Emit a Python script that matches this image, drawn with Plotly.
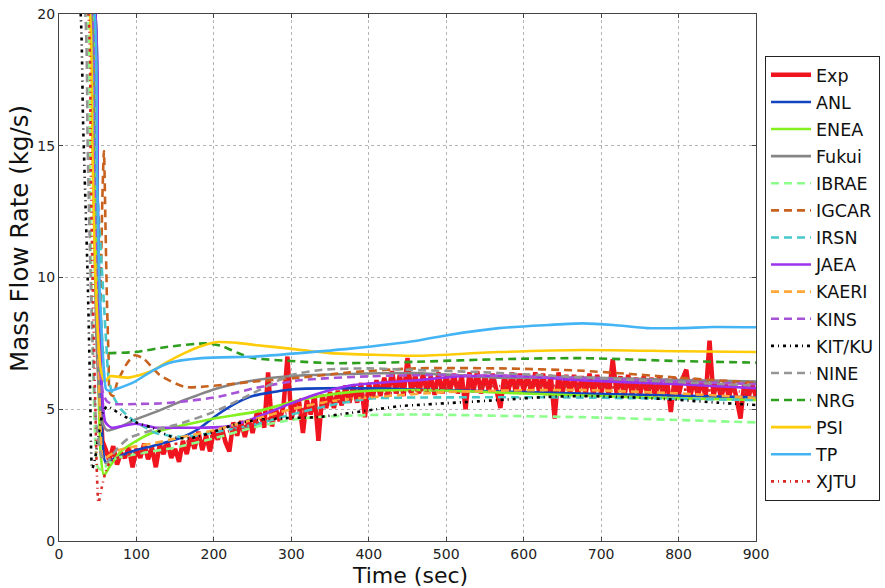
import plotly.graph_objects as go

# ---------------- data ----------------
exp_time = [0, 46, 48, 50, 53, 56] + list(range(60, 905, 5))
exp_flow = [30, 20, 14, 9, 5.5, 3.8,
    # 60-105
    3.5, 3.05, 3.6, 2.9, 3.35, 3.15, 3.55, 2.8, 3.5, 3.15,
    # 110-155
    3.7, 3.1, 3.55, 2.8, 3.65, 3.3, 3.75, 3.15, 3.5, 3.0,
    # 160-205
    3.8, 3.3, 3.95, 3.5, 4.15, 3.45, 4.0, 3.4, 4.2, 3.85,
    # 210-255
    4.3, 3.75, 3.4, 4.5, 4.0, 4.55, 3.95, 4.6, 4.1, 4.8,
    # 260-305
    4.8, 4.3, 6.4, 4.35, 5.0, 4.55, 5.15, 7.0, 4.6, 5.2,
    # 310-355
    5.3, 4.1, 5.35, 4.8, 5.55, 3.8, 5.55, 5.05, 5.65, 5.05,
    # 360-405
    5.7, 5.15, 5.9, 5.25, 5.9, 5.25, 6.0, 4.7, 6.0, 5.45,
    # 410-455
    6.1, 5.5, 6.2, 5.55, 6.45, 5.6, 6.3, 5.5, 6.95, 5.6,
    # 460-505
    6.3, 5.6, 6.35, 5.65, 6.25, 5.55, 6.4, 5.6, 6.3, 5.7,
    # 510-555
    6.35, 5.6, 6.3, 5.0, 6.4, 5.65, 6.45, 5.6, 6.3, 5.7,
    # 560-605
    6.35, 5.6, 5.05, 6.3, 5.65, 6.4, 5.6, 6.35, 5.7, 6.3,
    # 610-655
    5.6, 6.4, 5.65, 6.35, 5.55, 6.3, 4.65, 6.4, 5.6, 6.3,
    # 660-705
    5.6, 6.3, 5.55, 6.25, 5.6, 6.35, 5.55, 6.3, 5.6, 6.2,
    # 710-755
    5.55, 6.9, 5.6, 6.25, 5.5, 6.3, 5.55, 6.2, 5.5, 6.25,
    # 760-805
    5.5, 6.2, 5.45, 6.25, 5.5, 6.15, 4.9, 6.2, 5.5, 6.15,
    # 810-855
    6.5, 5.45, 6.15, 5.5, 6.1, 5.45, 7.6, 5.5, 6.1, 5.4,
    # 860-900
    6.1, 5.45, 6.05, 5.4, 4.65, 6.05, 5.4, 6.0, 5.45,
]

anl_time = [0, 47, 50, 53, 56, 60, 70, 77, 100, 120, 160, 180, 205, 230, 250, 300, 380, 460, 600, 750, 900]
anl_flow = [30, 20, 13, 7, 4, 3.0, 3.1, 3.2, 3.45, 3.6, 3.95, 4.25, 4.8, 5.25, 5.5, 5.75, 5.8, 5.75, 5.65, 5.55, 5.45]

enea_time = [0, 45, 48, 51, 54, 58, 65, 80, 100, 120, 162, 200, 253, 311, 376, 462, 600, 750, 900]
enea_flow = [30, 20, 12, 6, 3.2, 2.5, 2.8, 3.4, 3.8, 4.1, 4.4, 4.65, 4.9, 5.35, 5.65, 5.73, 5.6, 5.45, 5.35]

fukui_time = [0, 42, 45, 48, 52, 56, 62, 80, 98, 125, 162, 205, 253, 300, 376, 460, 570, 680, 790, 900]
fukui_flow = [30, 20, 13, 8, 5.5, 4.5, 4.2, 4.35, 4.6, 4.9, 5.35, 5.8, 6.1, 6.26, 6.34, 6.37, 6.2, 6.2, 6.12, 6.05]

ibrae_time = [0, 37, 40, 43, 46, 50, 55, 70, 100, 150, 200, 250, 300, 333, 398, 463, 570, 676, 790, 900]
ibrae_flow = [30, 20, 13, 8, 4.5, 2.8, 2.7, 3.1, 3.3, 3.55, 3.9, 4.3, 4.6, 4.7, 4.78, 4.8, 4.75, 4.7, 4.6, 4.5]

igcar_time = [0, 46, 50, 53, 56, 58, 60, 62, 64, 66, 70, 75, 88, 98, 110, 130, 162, 184, 253, 311, 376, 460, 570, 676, 800, 900]
igcar_flow = [30, 20, 12, 9, 13, 14.8, 12, 9, 7, 5.6, 5.5, 6.0, 6.75, 7.05, 6.9, 6.3, 5.85, 5.85, 6.05, 6.2, 6.4, 6.55, 6.55, 6.46, 6.2, 6.0]

irsn_time = [0, 40, 45, 50, 55, 58, 61, 64, 70, 80, 95, 112, 125, 160, 205, 250, 300, 350, 400, 500, 650, 900]
irsn_flow = [30, 20, 16, 13, 10.5, 9, 7.5, 6.2, 5.5, 5.0, 4.6, 4.3, 4.1, 3.95, 4.15, 4.4, 4.8, 5.15, 5.4, 5.45, 5.45, 5.35]

jaea_time = [0, 47, 50, 53, 56, 60, 68, 80, 99, 125, 150, 185, 218, 253, 289, 330, 376, 462, 520, 600, 673, 800, 900]
jaea_flow = [30, 20, 13, 8, 5.5, 4.5, 4.3, 4.35, 4.45, 4.3, 4.3, 4.3, 4.35, 4.67, 5.1, 5.55, 5.9, 6.1, 6.25, 6.25, 6.1, 5.95, 5.8]

kaeri_time = [0, 45, 48, 51, 54, 57, 65, 77, 100, 120, 160, 200, 250, 300, 350, 400, 500, 600, 673, 800, 900]
kaeri_flow = [30, 20, 13, 7, 4, 3.1, 3.25, 3.45, 3.6, 3.7, 3.95, 4.2, 4.6, 5.0, 5.3, 5.45, 5.65, 5.72, 5.73, 5.6, 5.43]

kins_time = [0, 44, 47, 50, 53, 57, 62, 70, 100, 130, 162, 205, 253, 311, 400, 500, 650, 800, 900]
kins_flow = [30, 20, 14, 9, 6.5, 5.6, 5.3, 5.2, 5.2, 5.22, 5.3, 5.47, 5.8, 6.1, 6.25, 6.3, 6.2, 6.05, 5.95]

kit_time = [0, 28, 31, 34, 37, 40, 43, 47, 52, 57, 62, 80, 100, 120, 145, 170, 205, 230, 257, 298, 333, 376, 410, 440, 462, 568, 632, 676, 740, 802, 850, 900]
kit_flow = [30, 20, 16, 13, 10, 6, 2.75, 3.2, 4.2, 4.9, 5.1, 4.8, 4.5, 4.3, 3.96, 3.9, 4.2, 4.45, 4.6, 4.67, 4.7, 4.86, 5.0, 5.12, 5.16, 5.35, 5.47, 5.5, 5.45, 5.35, 5.25, 5.16]

nine_time = [0, 34, 37, 40, 44, 48, 54, 60, 75, 90, 120, 150, 200, 250, 280, 300, 340, 400, 450, 550, 650, 750, 900]
nine_flow = [30, 20, 15, 11, 7, 4.5, 3.3, 2.95, 3.5, 3.9, 4.2, 4.4, 4.9, 5.6, 6.05, 6.3, 6.5, 6.55, 6.5, 6.4, 6.25, 6.1, 5.9]

nrg_time = [0, 46, 49, 52, 55, 58, 65, 98, 141, 190, 210, 230, 250, 300, 350, 420, 460, 570, 675, 800, 900]
nrg_flow = [30, 20, 14, 10, 8, 7.1, 7.13, 7.17, 7.37, 7.5, 7.4, 7.15, 6.95, 6.83, 6.75, 6.77, 6.8, 6.9, 6.94, 6.83, 6.77]

psi_time = [0, 40, 43, 46, 50, 54, 59, 66, 89, 120, 140, 162, 184, 205, 230, 253, 298, 350, 420, 462, 568, 676, 802, 900]
psi_flow = [30, 20, 15, 11, 8, 6.5, 6.05, 6.25, 6.2, 6.45, 6.8, 7.13, 7.4, 7.55, 7.52, 7.44, 7.3, 7.13, 7.06, 7.03, 7.17, 7.25, 7.2, 7.17]

tp_time = [0, 46, 49, 52, 55, 58, 61, 66, 77, 98, 120, 141, 184, 253, 311, 376, 462, 503, 568, 632, 676, 716, 759, 802, 845, 900]
tp_flow = [30, 20, 14, 10, 8, 6.5, 5.75, 5.7, 5.8, 6.05, 6.45, 6.75, 6.94, 7.0, 7.13, 7.3, 7.6, 7.82, 8.08, 8.2, 8.26, 8.2, 8.08, 8.08, 8.12, 8.11]

xjtu_time = [0, 38, 41, 44, 47, 49, 51, 55, 60, 66, 80, 120, 200, 300, 400, 500, 600, 750, 900]
xjtu_flow = [30, 20, 14, 9, 5, 2.5, 1.45, 2.0, 2.6, 3.0, 3.2, 3.5, 4.0, 4.9, 5.5, 5.8, 5.9, 5.8, 5.65]

x_ticks = [0, 100, 200, 300, 400, 500, 600, 700, 800, 900]
y_ticks = [0, 5, 10, 15, 20]

# ---------------- styling ----------------
series = [
    ("Exp",    exp_time,   exp_flow,   "#f0141e", "solid",   4.5, "linear"),
    ("ANL",    anl_time,   anl_flow,   "#1445c0", "solid",   2.6, "spline"),
    ("ENEA",   enea_time,  enea_flow,  "#84f01e", "solid",   2.6, "spline"),
    ("Fukui",  fukui_time, fukui_flow, "#868686", "solid",   2.6, "spline"),
    ("IBRAE",  ibrae_time, ibrae_flow, "#8cff8c", "8px,5px", 2.6, "spline"),
    ("IGCAR",  igcar_time, igcar_flow, "#c8621e", "8px,5px", 2.6, "spline"),
    ("IRSN",   irsn_time,  irsn_flow,  "#46c8c8", "8px,5px", 2.6, "spline"),
    ("JAEA",   jaea_time,  jaea_flow,  "#9a32ee", "solid",   2.6, "spline"),
    ("KAERI",  kaeri_time, kaeri_flow, "#ffa83a", "8px,5px", 2.6, "spline"),
    ("KINS",   kins_time,  kins_flow,  "#a653d8", "8px,5px", 2.6, "spline"),
    ("KIT/KU", kit_time,   kit_flow,   "#000000", "3px,4px,1px,4px", 2.6, "spline"),
    ("NINE",   nine_time,  nine_flow,  "#959595", "8px,5px", 2.6, "spline"),
    ("NRG",    nrg_time,   nrg_flow,   "#2e9e1e", "8px,5px", 2.6, "spline"),
    ("PSI",    psi_time,   psi_flow,   "#ffcc0a", "solid",   2.6, "spline"),
    ("TP",     tp_time,    tp_flow,    "#44b4f4", "solid",   2.6, "spline"),
    ("XJTU",   xjtu_time,  xjtu_flow,  "#d82828", "3px,4px,1px,4px", 2.6, "spline"),
]

fig = go.Figure()
for name, t, v, color, dash, width, shape in series:
    line = dict(color=color, width=width, dash=dash, shape=shape)
    if shape == "spline":
        line["smoothing"] = 0.7
    fig.add_trace(go.Scatter(
        x=t, y=v, mode="lines", name=name, legendgroup=name,
        line=line,
    ))

axis_common = dict(
    showline=True, linecolor="#444444", linewidth=1.2, mirror="ticks",
    ticks="inside", ticklen=4, tickcolor="#444444",
    showgrid=True, gridcolor="#b4b4b4", griddash="dot", gridwidth=1,
    zeroline=False, automargin=False,
    tickfont=dict(family="DejaVu Sans", size=14, color="#222222"),
)

fig.update_layout(
    width=885, height=588,
    margin=dict(l=59, r=129, t=14, b=47, autoexpand=False),
    paper_bgcolor="white", plot_bgcolor="white",
    font=dict(family="DejaVu Sans", color="#111111"),
    xaxis=dict(range=[0, 900], tickvals=x_ticks, **axis_common),
    yaxis=dict(range=[0, 20], tickvals=y_ticks, **axis_common),
    legend=dict(
        xref="container", yref="container",
        x=0.8644, y=0.9048, xanchor="left", yanchor="top",
        bordercolor="#222222", borderwidth=1, bgcolor="white",
        font=dict(family="DejaVu Sans", size=17.5, color="#111111"),
        tracegroupgap=1.35, itemwidth=40, maxheight=540,
    ),
    showlegend=True,
    annotations=[
        dict(text="Time (sec)", xref="paper", yref="paper", x=0.5036, y=-0.0645,
             xanchor="center", yanchor="middle", showarrow=False, height=26,
             font=dict(family="DejaVu Sans", size=22, color="#111111")),
        dict(text="Mass Flow Rate (kg/s)", xref="paper", yref="paper", x=-0.056, y=0.575,
             xanchor="center", yanchor="middle", textangle=-90, showarrow=False,
             font=dict(family="DejaVu Sans", size=24.5, color="#111111")),
    ],
)

fig.write_html("out.html")
